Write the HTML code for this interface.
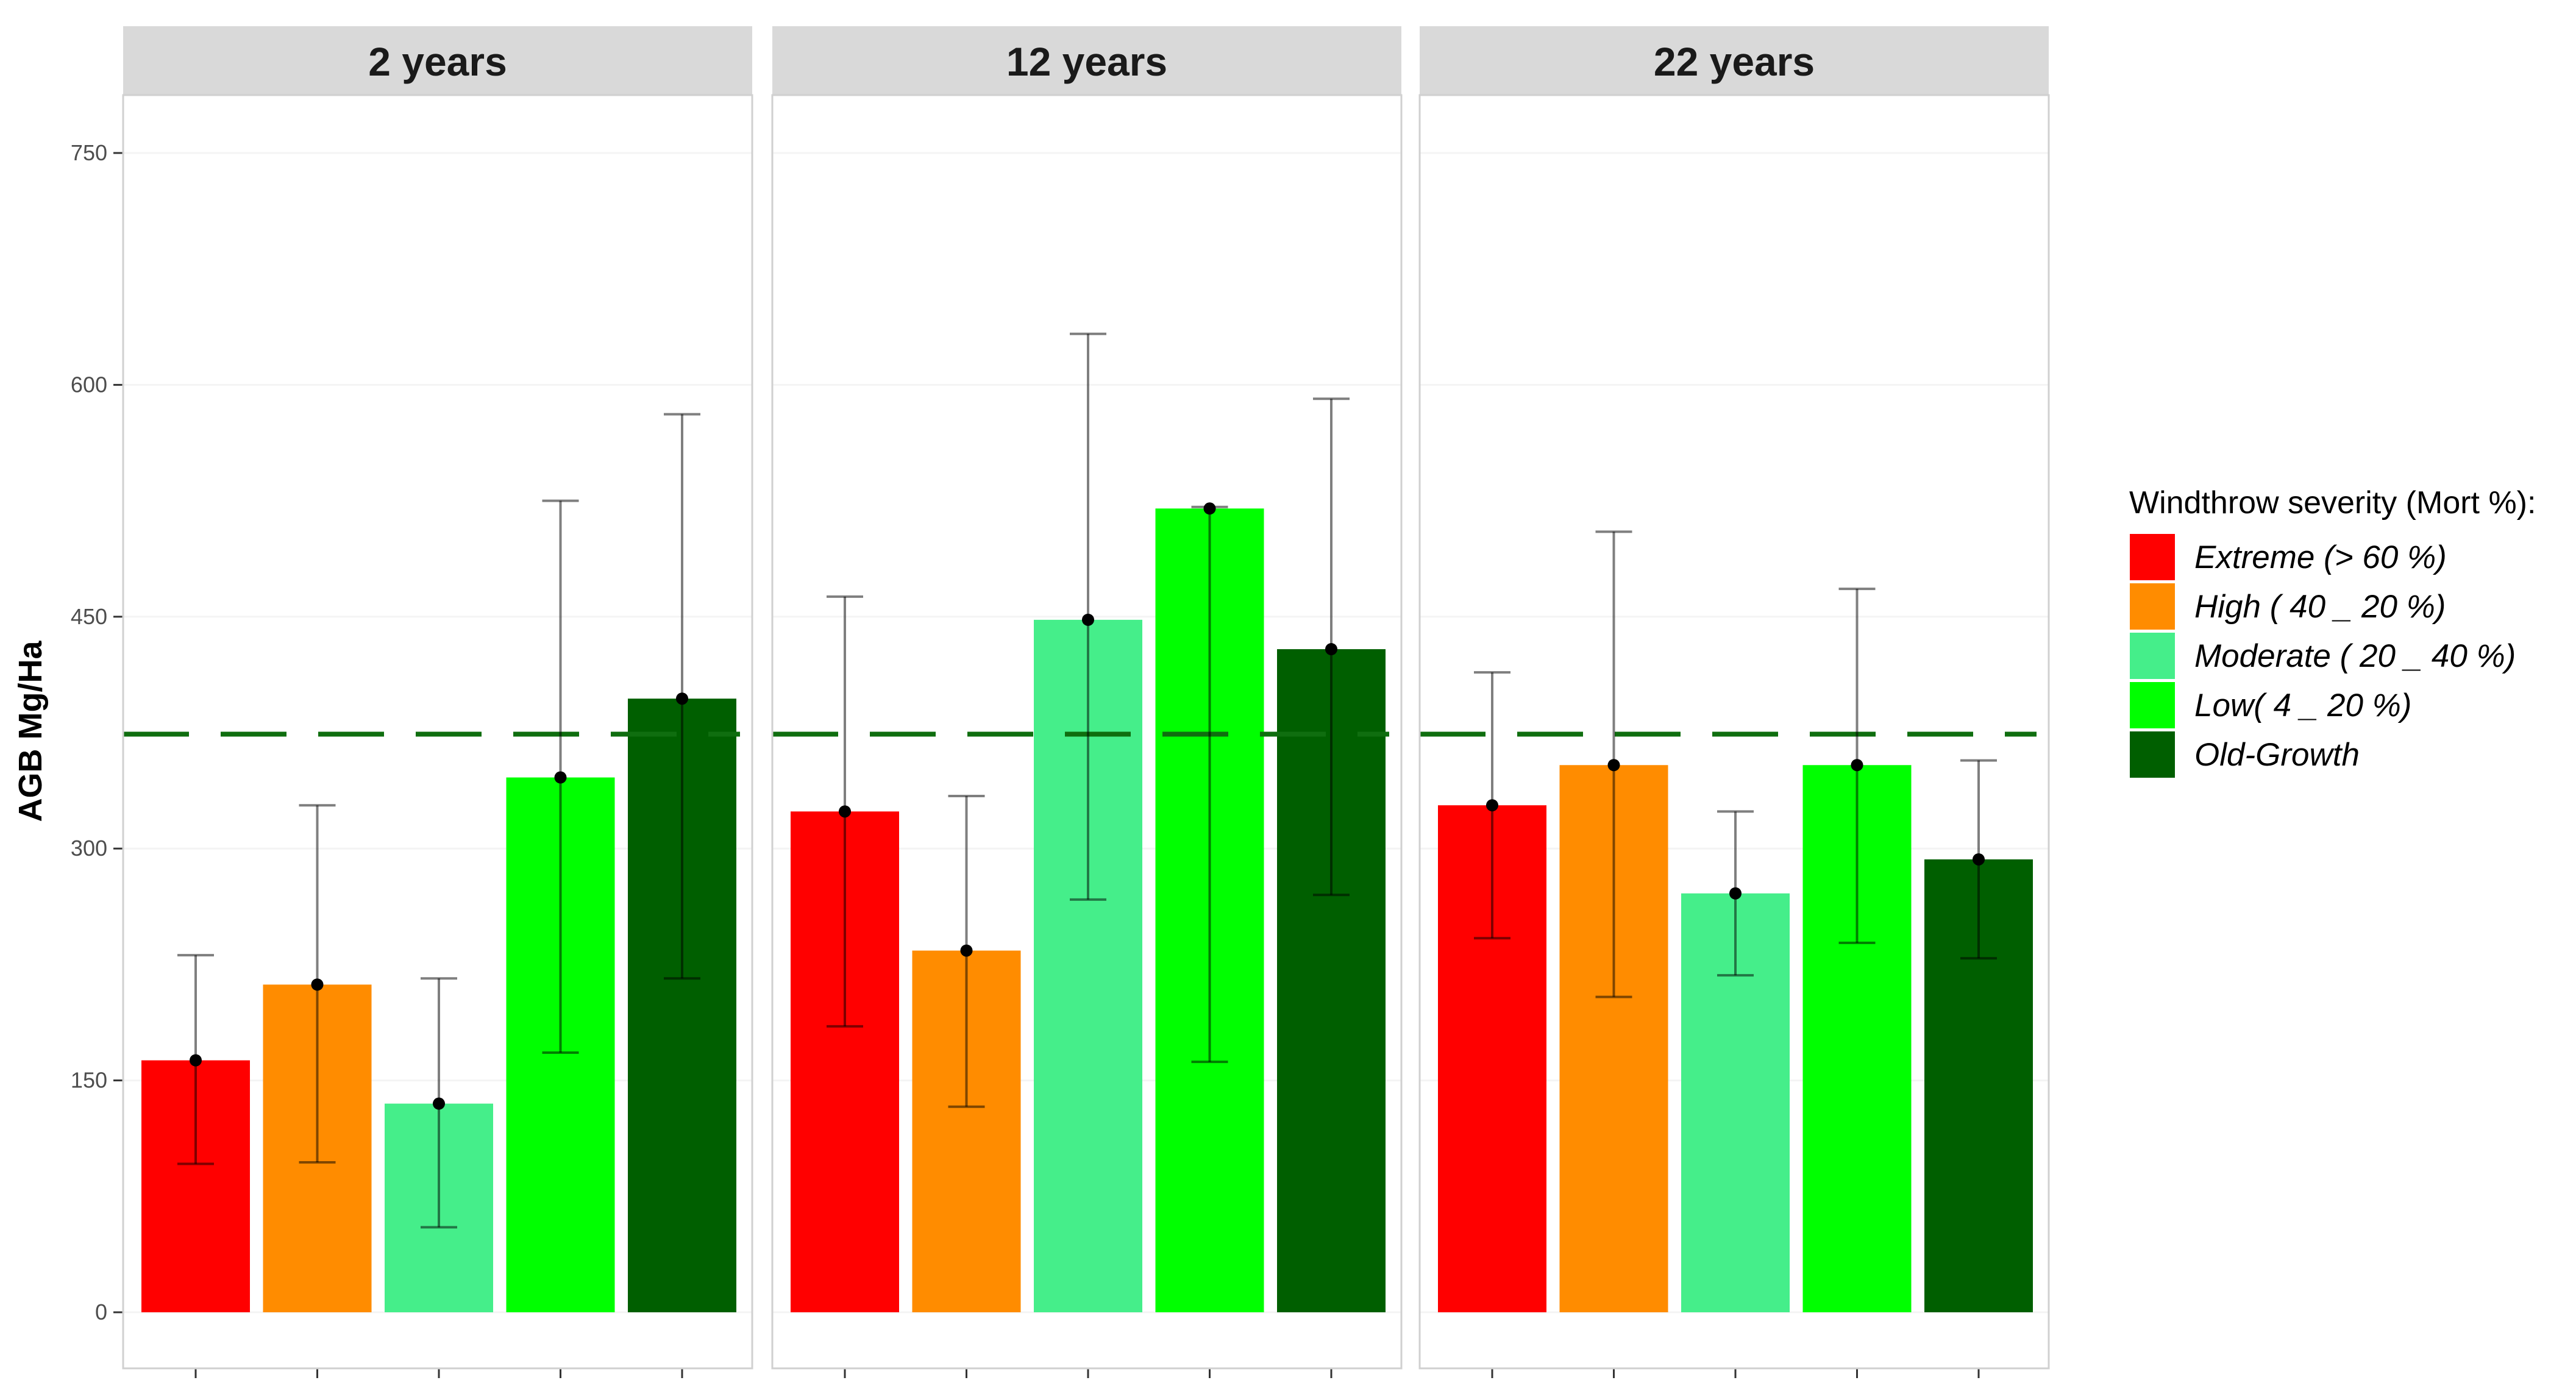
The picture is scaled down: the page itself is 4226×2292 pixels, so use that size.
<!DOCTYPE html>
<html><head><meta charset="utf-8"><style>
html,body{margin:0;padding:0;background:#fff;}
svg{display:block;font-family:"Liberation Sans",sans-serif;}
</style></head><body>
<svg id="chart" width="4226" height="2292" viewBox="0 0 4226 2292" xmlns="http://www.w3.org/2000/svg"></svg>
<script>
const panels = ["2 years","12 years","22 years"];
const categories = ["Extreme (> 60 %)","High ( 40 _ 20 %)","Moderate ( 20 _ 40 %)","Low( 4 _ 20 %)","Old-Growth"];
const colors = ["#ff0000","#ff8c00","#45ee8a","#00ff00","#005f00"];
const meanValues = [[163,212,135,346,397],[324,234,448,520,429],[328,354,271,354,293]];
const upperValues = [[231,328,216,525,581],[463,334,633,521,591],[414,505,324,468,357]];
const lowerValues = [[96,97,55,168,216],[185,133,267,162,270],[242,204,218,239,229]];
const yTicks = [0,150,300,450,600,750];
const refLine = 374;

const NS="http://www.w3.org/2000/svg";
const svg=document.getElementById('chart');
function mk(tag,attrs,parent){const e=document.createElementNS(NS,tag);for(const k in attrs)e.setAttribute(k,attrs[k]);(parent||svg).appendChild(e);return e;}
const y0=2153, y750=251;
function yScale(v){return y0-(v/750)*(y0-y750);}
const panelLeft=[202,1267,2329], panelW=1032, stripTop=43, stripBot=156, panelBot=2245;
function xScale(p,i){return panelLeft[p]+119+i*199.5;}
const barW=178;

yTicks.forEach(t=>{
  const y=yScale(t);
  const lb=mk('text',{x:176,y:y+12,'text-anchor':'end','font-size':36,fill:'#4d4d4d'});
  lb.textContent=t;
  
  
  mk('line',{x1:186,x2:202,y1:y,y2:y,stroke:'#333','stroke-width':3});
});
const yt=mk('text',{x:0,y:0,transform:'translate(68,1200) rotate(-90)','text-anchor':'middle','font-size':54,'font-weight':'bold',fill:'#000'});
yt.textContent='AGB Mg/Ha';



panels.forEach((name,p)=>{
  const L=panelLeft[p];
  const g=mk('g',{});
  
  
  mk('rect',{x:L,y:stripBot,width:panelW,height:panelBot-stripBot,fill:'#fff'},g);
  yTicks.forEach(t=>{mk('line',{x1:L,x2:L+panelW,y1:yScale(t),y2:yScale(t),stroke:'#f4f4f4','stroke-width':3},g);});
  mk('rect',{x:L,y:stripTop,width:panelW,height:stripBot-stripTop,fill:'#d9d9d9'},g);
  const st=mk('text',{x:L+panelW/2,y:124,'text-anchor':'middle','font-size':66,'font-weight':'bold',fill:'#1a1a1a'},g);
  st.textContent=name;
  
  
  for(let i=0;i<5;i++){
    const cx=xScale(p,i);
    const b=mk('rect',{x:cx-barW/2,y:yScale(meanValues[p][i]),width:barW,height:y0-yScale(meanValues[p][i]),fill:colors[i]},g);
    
    
  }
  mk('line',{x1:L,x2:L+panelW-20,y1:yScale(refLine),y2:yScale(refLine),stroke:'#0f6e0f','stroke-width':8,'stroke-dasharray':'108 52'},g);
  for(let i=0;i<5;i++){
    const cx=xScale(p,i),yu=yScale(upperValues[p][i]),yl=yScale(lowerValues[p][i]);
    const eg=mk('g',{stroke:'#000','stroke-opacity':0.5,'stroke-width':4},g);
    
    
    mk('line',{x1:cx,x2:cx,y1:yu,y2:yl},eg);
    mk('line',{x1:cx-30,x2:cx+30,y1:yu,y2:yu},eg);
    mk('line',{x1:cx-30,x2:cx+30,y1:yl,y2:yl},eg);
    const pt=mk('circle',{cx:cx,cy:yScale(meanValues[p][i]),r:10,fill:'#000'},g);
    
    
    mk('line',{x1:cx,x2:cx,y1:panelBot,y2:panelBot+16,stroke:'#333','stroke-width':3},g);
  }
  mk('rect',{x:L,y:stripBot,width:panelW,height:panelBot-stripBot,fill:'none',stroke:'#d0d0d0','stroke-width':3},g);
});

const lg=mk('g',{});


const lt=mk('text',{x:3493,y:842,'font-size':52,fill:'#000'},lg);
lt.textContent='Windthrow severity (Mort %):';


categories.forEach((c,i)=>{
  const cy=914+i*81;
  const e=mk('g',{},lg);
  
  
  mk('rect',{x:3494,y:cy-38,width:74,height:76,fill:colors[i]},e);
  const t=mk('text',{x:3600,y:cy+18,'font-size':53,'font-style':'italic',fill:'#000'},e);
  t.textContent=c;
});
</script>
</body></html>
